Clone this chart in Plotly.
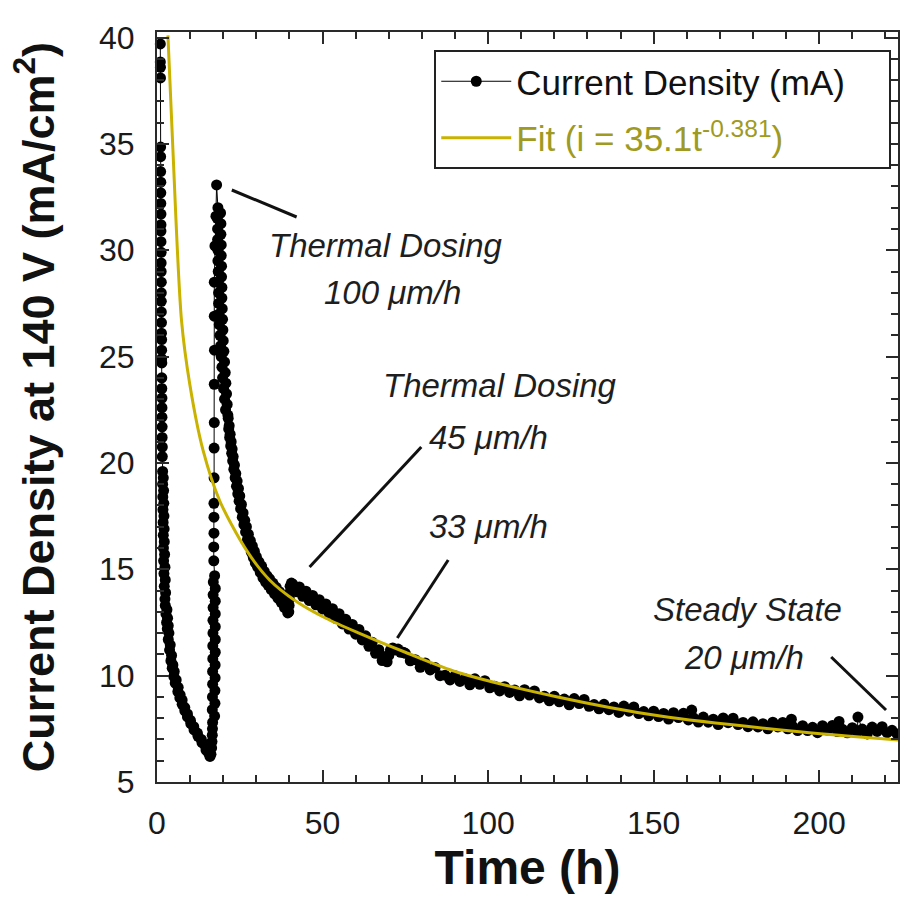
import plotly.graph_objects as go

# ---------------- data ----------------
# initial column of points just after start
seg_a_t = [1.0, 1.0, 1.05, 1.05, 1.1, 1.1, 1.1, 1.15, 1.15, 1.15, 1.2, 1.2, 1.2, 1.2,
           1.25, 1.25, 1.25, 1.3, 1.3, 1.3, 1.3, 1.35, 1.35, 1.4, 1.4, 1.4, 1.45, 1.45,
           1.45, 1.5, 1.5, 1.5, 1.55, 1.55, 1.6, 1.6]
seg_a_i = [39.7, 38.85, 38.6, 38.1, 34.85, 34.4, 33.7, 33.2, 32.7, 32.2, 31.7, 31.2, 30.9, 30.4,
           29.9, 29.4, 29.0, 28.5, 28.0, 27.6, 27.1, 26.6, 26.1, 25.8, 25.3, 24.9, 24.7, 24.0,
           23.5, 23.05, 22.6, 22.15, 21.7, 21.2, 20.75, 20.3]

seg_b_t = [1.7, 1.9, 1.7, 2.0, 1.75, 2.05, 1.8, 2.1, 1.85, 2.15, 1.9, 2.2, 1.95, 2.3, 2.0,
           2.4, 2.1, 2.5, 2.2, 2.6, 2.4]
seg_b_i = [19.6, 19.3, 19.0, 18.7, 18.4, 18.1, 17.8, 17.5, 17.2, 16.9, 16.6, 16.3, 16.0, 15.7,
           15.4, 15.1, 14.8, 14.5, 14.2, 13.9, 13.6]

seg_c_t = [2.5, 3.0, 2.7, 3.2, 2.9, 3.4, 3.1, 3.6, 3.4, 4.0, 3.8, 4.4, 4.2, 4.8, 4.6, 5.2,
           5.1, 5.8, 5.5, 6.4, 6.3, 7.0, 6.9, 7.6, 7.6, 8.4, 8.4, 9.2, 9.2, 10.1, 10.2, 11.1,
           11.2, 12.2, 12.4, 13.4, 13.6, 14.6, 14.8, 15.6, 16.0]
seg_c_i = [13.3, 13.1, 12.9, 12.7, 12.5, 12.35, 12.2, 12.0, 11.7, 11.45, 11.2, 10.95, 10.7, 10.5,
           10.35, 10.2, 9.95, 9.8, 9.65, 9.45, 9.25, 9.1, 8.95, 8.85, 8.65, 8.5, 8.35, 8.2, 8.06,
           7.9, 7.75, 7.6, 7.45, 7.3, 7.15, 7.0, 6.85, 6.7, 6.5, 6.35, 6.2]

# thermal dosing 100 um/h : rise and peak
seg_d_t = [16.3, 16.5, 16.6, 16.7, 16.75, 16.8, 17.4, 16.7, 17.5, 16.75, 17.5, 16.8, 17.55,
           16.8, 17.55, 16.85, 17.6, 16.85, 17.6, 16.9, 17.6, 16.9, 17.6, 16.95, 17.6, 16.95,
           17.6, 17.0, 17.4,
           17.15, 17.15, 17.2, 17.2, 17.2, 17.25, 17.25, 17.3, 17.3, 17.35, 17.3, 17.3, 17.5,
           17.8, 18.0]
seg_d_i = [6.3, 6.6, 6.9, 7.2, 7.5, 7.8, 8.1, 8.4, 8.7, 9.0, 9.3, 9.6, 9.9, 10.2, 10.5, 10.8,
           11.1, 11.4, 11.7, 12.0, 12.3, 12.6, 12.9, 13.2, 13.5, 13.8, 14.1, 14.4, 14.7,
           15.4, 16.05, 16.7, 17.45, 18.1, 19.3, 20.7, 21.9, 23.7, 25.3, 26.9, 28.5, 30.2,
           31.6, 33.07]

seg_e_t = [18.4, 19.2, 18.2, 19.3, 18.3, 19.3, 18.3, 19.4, 18.4, 19.4, 18.4, 19.5, 18.5, 19.5,
           18.5, 19.6, 18.6, 19.6, 18.6, 19.7, 18.7, 19.8, 18.8, 19.9, 19.0, 20.0, 19.2, 20.2,
           19.4, 20.4, 19.6, 20.6, 19.8, 20.8, 20.1, 21.0, 20.4, 21.2, 20.7, 21.4]
seg_e_i = [32.0, 31.75, 31.5, 31.25, 31.0, 30.75, 30.5, 30.25, 30.0, 29.75, 29.5, 29.25, 29.0,
           28.75, 28.5, 28.25, 28.0, 27.75, 27.5, 27.25, 27.0, 26.75, 26.5, 26.25, 26.0, 25.75,
           25.5, 25.25, 25.0, 24.75, 24.5, 24.25, 24.0, 23.75, 23.5, 23.25, 23.0, 22.75, 22.5,
           22.25]

seg_f_t = [21.5, 21.65, 21.8, 21.95, 22.1, 22.25, 22.4, 22.55, 22.7, 22.85,
           23.0, 23.2, 23.4, 23.6, 23.8, 24.0, 24.2, 24.4, 24.6, 24.8,
           25.0, 25.25, 25.5, 25.75, 26.0, 26.25, 26.5, 26.75, 27.0, 27.3,
           27.6, 27.9, 28.2, 28.5, 28.8, 29.1, 29.4, 29.7, 30.0, 30.4,
           30.8, 31.2, 31.6, 32.0, 32.4, 32.8, 33.2, 33.6, 34.0, 34.5,
           35.0, 35.5, 36.0, 36.5, 37.0, 37.5, 38.0, 38.5, 39.0, 39.5]
seg_f_i = [22.1, 21.6, 21.75, 21.2, 21.35, 20.8, 21.0, 20.45, 20.65, 20.1,
           20.3, 19.7, 19.9, 19.3, 19.5, 18.9, 19.15, 18.55, 18.8, 18.2,
           18.45, 17.85, 18.05, 17.45, 17.65, 17.1, 17.3, 16.75, 17.0, 16.4,
           16.65, 16.1, 16.35, 15.8, 16.1, 15.55, 15.85, 15.3, 15.6, 15.1,
           15.35, 14.85, 15.15, 14.6, 14.9, 14.4, 14.7, 14.25, 14.55, 14.05,
           14.35, 13.85, 14.15, 13.65, 13.95, 13.45, 13.7, 13.2, 13.4, 12.95]

# thermal dosing 45 um/h and 33 um/h
seg_g_t = [39.8, 39.9, 40.0, 40.1, 40.2, 40.6, 41, 42, 43, 44, 45, 46, 47, 48, 49, 50, 51, 52,
           53, 54, 55, 56, 57, 58, 59, 60, 61, 62, 63, 64, 65, 66, 67, 68, 69, 69.5, 70.0, 70.5,
           71.2, 72.0, 72.8, 73.6, 74.4]
seg_g_i = [13.0, 13.3, 13.6, 13.9, 14.2, 14.35, 14.3, 13.95, 14.17, 13.73, 13.97, 13.53, 13.77,
           13.33, 13.57, 13.13, 13.37, 12.93, 13.15, 12.69, 12.91, 12.43, 12.65, 12.19, 12.41,
           11.95, 12.17, 11.68, 11.87, 11.38, 11.57, 11.05, 11.22, 10.71, 10.9, 10.65, 10.95,
           11.2, 11.3, 11.2, 11.25, 11.1, 11.1]

# long tail towards steady state
tail_t = [75.0, 76.5, 78.0, 79.5, 81.0, 82.5, 84.0, 85.5, 87.0, 88.5,
          90.0, 91.5, 93.0, 94.5, 96.0, 97.5, 99.0, 100.5, 102.0, 103.5,
          105.0, 106.5, 108.0, 109.5, 111.0, 112.5, 114.0, 115.5, 117.0, 118.5,
          120.0, 121.5, 123.0, 124.5, 126.0, 127.5, 129.0, 130.5, 132.0, 133.5,
          135.0, 136.5, 138.0, 139.5, 141.0, 142.5, 144.0, 145.5, 147.0, 148.5,
          150.0, 151.5, 153.0, 154.5, 156.0, 157.5, 159.0, 160.5, 162.0, 163.5,
          165.0, 166.5, 168.0, 169.5, 171.0, 172.5, 174.0, 175.5, 177.0, 178.5,
          180.0, 181.5, 183.0, 184.5, 186.0, 187.5, 189.0, 190.5, 192.0, 193.5,
          195.0, 196.5, 198.0, 199.5, 201.0, 202.5, 204.0, 205.5, 207.0, 208.5,
          210.0, 211.5, 213.0, 214.5, 216.0, 217.5, 219.0, 220.5, 222.0, 223.5]
tail_i = [11.05, 10.70, 10.75, 10.39, 10.60, 10.27, 10.38, 10.00, 10.02, 9.80,
          10.00, 9.73, 9.85, 9.57, 9.85, 9.59, 9.76, 9.43, 9.50, 9.28,
          9.48, 9.21, 9.33, 9.05, 9.34, 9.09, 9.28, 8.95, 9.03, 8.82,
          9.03, 8.77, 8.90, 8.63, 8.92, 8.69, 8.88, 8.56, 8.64, 8.44,
          8.65, 8.40, 8.53, 8.27, 8.57, 8.33, 8.53, 8.22, 8.31, 8.11,
          8.33, 8.08, 8.22, 7.96, 8.26, 8.03, 8.23, 7.92, 8.02, 7.82,
          8.05, 7.81, 7.95, 7.70, 8.01, 7.79, 8.00, 7.70, 7.80, 7.60,
          7.83, 7.59, 7.74, 7.50, 7.81, 7.59, 7.80, 7.50, 7.61, 7.42,
          7.65, 7.42, 7.57, 7.32, 7.65, 7.44, 7.66, 7.37, 7.48, 7.31,
          7.55, 7.33, 7.49, 7.26, 7.58, 7.38, 7.60, 7.32, 7.43, 7.26]
spike_t = [161.5, 191.6, 206.0, 211.7]
spike_i = [8.38, 7.95, 7.85, 8.05]

# power-law fit curve as drawn
fit_t = [3.3, 4.7, 7.4, 9.9, 13.9, 19.0, 27.0, 34.0, 42.0, 51.0, 61.0, 75.0, 91.0, 121.0,
         152.0, 191.6, 224.0]
fit_i = [40.1, 35.1, 26.7, 23.7, 20.6, 18.2, 15.9, 14.5, 13.5, 12.7, 12.0, 11.1, 10.15, 9.0,
         8.1, 7.4, 6.97]

x_ticks = [0, 50, 100, 150, 200]
y_ticks = [5, 10, 15, 20, 25, 30, 35, 40]

# ---------------- assemble ----------------
tail_pairs = sorted(zip(tail_t + spike_t, tail_i + spike_i))
time_h = (seg_a_t + seg_b_t + seg_c_t + seg_d_t + seg_e_t + seg_f_t + seg_g_t
          + [p[0] for p in tail_pairs])
current = (seg_a_i + seg_b_i + seg_c_i + seg_d_i + seg_e_i + seg_f_i + seg_g_i
           + [p[1] for p in tail_pairs])

FONT = "Liberation Sans, Arial, Helvetica, sans-serif"
AX = "#2a2a2a"
PAD = "\u00a0" * 4

fig = go.Figure()
fig.add_trace(go.Scatter(
    x=time_h, y=current, mode="lines+markers", name="Current Density (mA)" + PAD,
    legendgroup="data", cliponaxis=False,
    line=dict(color="black", width=1),
    marker=dict(color="black", size=11, line=dict(width=0)),
))
fig.add_trace(go.Scatter(
    x=fit_t, y=fit_i, mode="lines", legendgroup="fit",
    name="<span style='color:#9e9a22'>Fit (i = 35.1t<sup>-0.381</sup>)</span>",
    line=dict(color="#c9b200", width=3, shape="spline", smoothing=0.8),
))

L, T, PW, PH = 157, 32, 743, 750


def pp(px, py):
    return (px - L) / PW, (T + PH - py) / PH


annots = [
    ("Thermal Dosing", 387, 245),
    ("100 \u03bcm/h", 393, 292),
    ("Thermal Dosing", 501, 385),
    ("45 \u03bcm/h", 489, 437),
    ("33 \u03bcm/h", 489, 526),
    ("Steady State", 749, 609),
    ("20 \u03bcm/h", 746, 657),
]
for txt, px, py in annots:
    xp, yp = pp(px, py)
    fig.add_annotation(x=xp, y=yp, xref="paper", yref="paper", text=txt, showarrow=False,
                       xanchor="center", yanchor="middle",
                       font=dict(family=FONT, size=33, color="#1e1e1e", style="italic"))

leaders = [((232, 190), (297, 217)), ((310, 567), (422, 447)),
           ((398, 638), (449, 560)), ((833, 657), (888, 710))]
for (x0, y0), (x1, y1) in leaders:
    a0, b0 = pp(x0, y0)
    a1, b1 = pp(x1, y1)
    fig.add_shape(type="line", xref="paper", yref="paper", x0=a0, y0=b0, x1=a1, y1=b1,
                  line=dict(color="#111111", width=3))

lx, ly = pp(435, 50)
fig.update_layout(
    width=900, height=903,
    margin=dict(l=L, r=0, t=T, b=903 - T - PH),
    plot_bgcolor="white", paper_bgcolor="white",
    font=dict(family=FONT, color="#1a1a1a"),
    showlegend=True,
    legend=dict(x=lx, y=ly, xanchor="left", yanchor="top", bgcolor="white",
                bordercolor="#222222", borderwidth=2, font=dict(size=35, color="#111111"),
                itemwidth=70, traceorder="grouped", tracegroupgap=8),
)
fig.update_xaxes(
    range=[0, 223.8], tickvals=x_ticks, ticks="inside", ticklen=12, tickwidth=2, tickcolor=AX,
    showline=True, linecolor=AX, linewidth=2, mirror="ticks", showgrid=False, zeroline=False,
    tickfont=dict(size=32, color="#1a1a1a"), ticklabelstandoff=12,
    minor=dict(dtick=10, tick0=0, ticks="inside", ticklen=7, tickwidth=2, tickcolor=AX),
    title=dict(text="<b>Time (h)</b>", font=dict(size=48, color="#111111"), standoff=0),
)
fig.update_yaxes(
    range=[5, 40.26], tickvals=y_ticks, ticks="inside", ticklen=12, tickwidth=2, tickcolor=AX,
    showline=True, linecolor=AX, linewidth=2, mirror="ticks", showgrid=False, zeroline=False,
    tickfont=dict(size=32, color="#1a1a1a"), ticklabelstandoff=14,
    minor=dict(dtick=1, tick0=0, ticks="inside", ticklen=7, tickwidth=2, tickcolor=AX),
    title=dict(text="<b>Current Density at 140 V (mA/cm<sup>2</sup>)</b>",
               font=dict(size=45, color="#111111"), standoff=30),
)

fig.write_html(
    "out.html",
    config={"displayModeBar": False},
    post_script="document.body.style.margin='0';document.body.style.overflow='hidden';",
)
